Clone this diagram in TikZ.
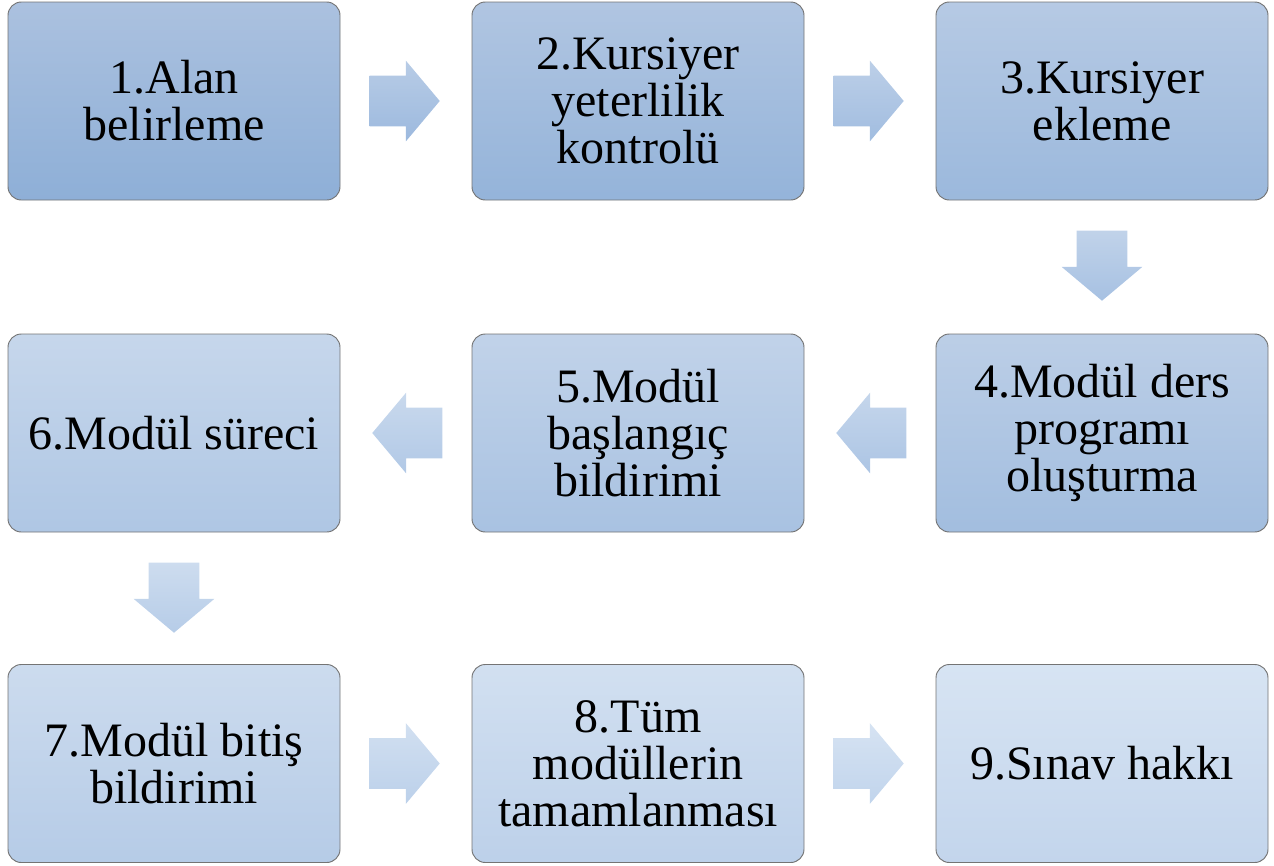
\documentclass[tikz,border=0pt]{standalone}
\usepackage{fontspec}
\setmainfont{Liberation Serif}
\usetikzlibrary{shapes.arrows,calc}

\definecolor{boxline}{HTML}{747474}
\definecolor{topdark}{HTML}{ABC1DF}
\definecolor{toplight}{HTML}{D7E4F3}
\definecolor{botdark}{HTML}{8EAFD7}
\definecolor{botlight}{HTML}{C3D5EC}
\definecolor{arrtopdark}{HTML}{B8CCE6}
\definecolor{arrtoplight}{HTML}{DAE6F4}
\definecolor{arrbotdark}{HTML}{9CB9DE}
\definecolor{arrbotlight}{HTML}{C6D8EE}

\tikzset{
    stage/.style={rectangle, rounded corners=10pt, draw=boxline, line width=0.7pt,
        minimum width=249pt, minimum height=148.5pt, align=center,
        font=\fontsize{36}{35.25}\selectfont,
        top color=toplight!#1!topdark, bottom color=botlight!#1!botdark},
    flow/.style={single arrow, single arrow head extend=11.25pt,
        single arrow head indent=0pt, single arrow tip angle=100,
        minimum height=52.5pt, minimum width=60pt, anchor=tail,
        inner xsep=0pt, inner ysep=18.75pt, draw=none,
        top color=arrtoplight!#1!arrtopdark, bottom color=arrbotlight!#1!arrbotdark},
    flowdown/.style={flow=#1, inner xsep=18.75pt, inner ysep=0pt, shape border rotate=270}
}

\begin{document}
\begin{tikzpicture}[x=0.75pt, y=-0.75pt]
    \useasboundingbox (0,0) rectangle (1274,865);

    % Draw nodes for row 1
    \node[stage=0] (s1) at (174, 101) {1.Alan\\belirleme};
    \node[stage=12] (s2) at (638, 101) {2.Kursiyer\\yeterlilik\\kontrolü};
    \node[stage=25] (s3) at (1102, 101) {3.Kursiyer\\ekleme};

    % Draw nodes for row 2
    \node[stage=38] (s4) at (1102, 433) {4.Modül ders\\programı\\oluşturma};
    \node[stage=50] (s5) at (638, 433) {5.Modül\\başlangıç\\bildirimi};
    \node[stage=62] (s6) at (174, 433) {6.Modül süreci};

    % Draw nodes for row 3
    \node[stage=75] (s7) at (174, 763.5) {7.Modül bitiş\\bildirimi};
    \node[stage=88] (s8) at (638, 763.5) {8.Tüm\\modüllerin\\tamamlanması};
    \node[stage=100] (s9) at (1102, 763.5) {9.Sınav hakkı};

    % Draw arrows
    \node[flow=0] (a12) at ([xshift=21.75pt]s1.east) {};
    \node[flow=12] (a23) at ([xshift=21.75pt]s2.east) {};
    \node[flowdown=25] (a34) at ([yshift=-22.5pt]s3.south) {};
    \node[flow=38, shape border rotate=180] (a45) at ([xshift=-21.75pt]s4.west) {};
    \node[flow=50, shape border rotate=180] (a56) at ([xshift=-21.75pt]s5.west) {};
    \node[flowdown=62] (a67) at ([yshift=-22.5pt]s6.south) {};
    \node[flow=75] (a78) at ([xshift=21.75pt]s7.east) {};
    \node[flow=88] (a89) at ([xshift=21.75pt]s8.east) {};
\end{tikzpicture}
\end{document}
